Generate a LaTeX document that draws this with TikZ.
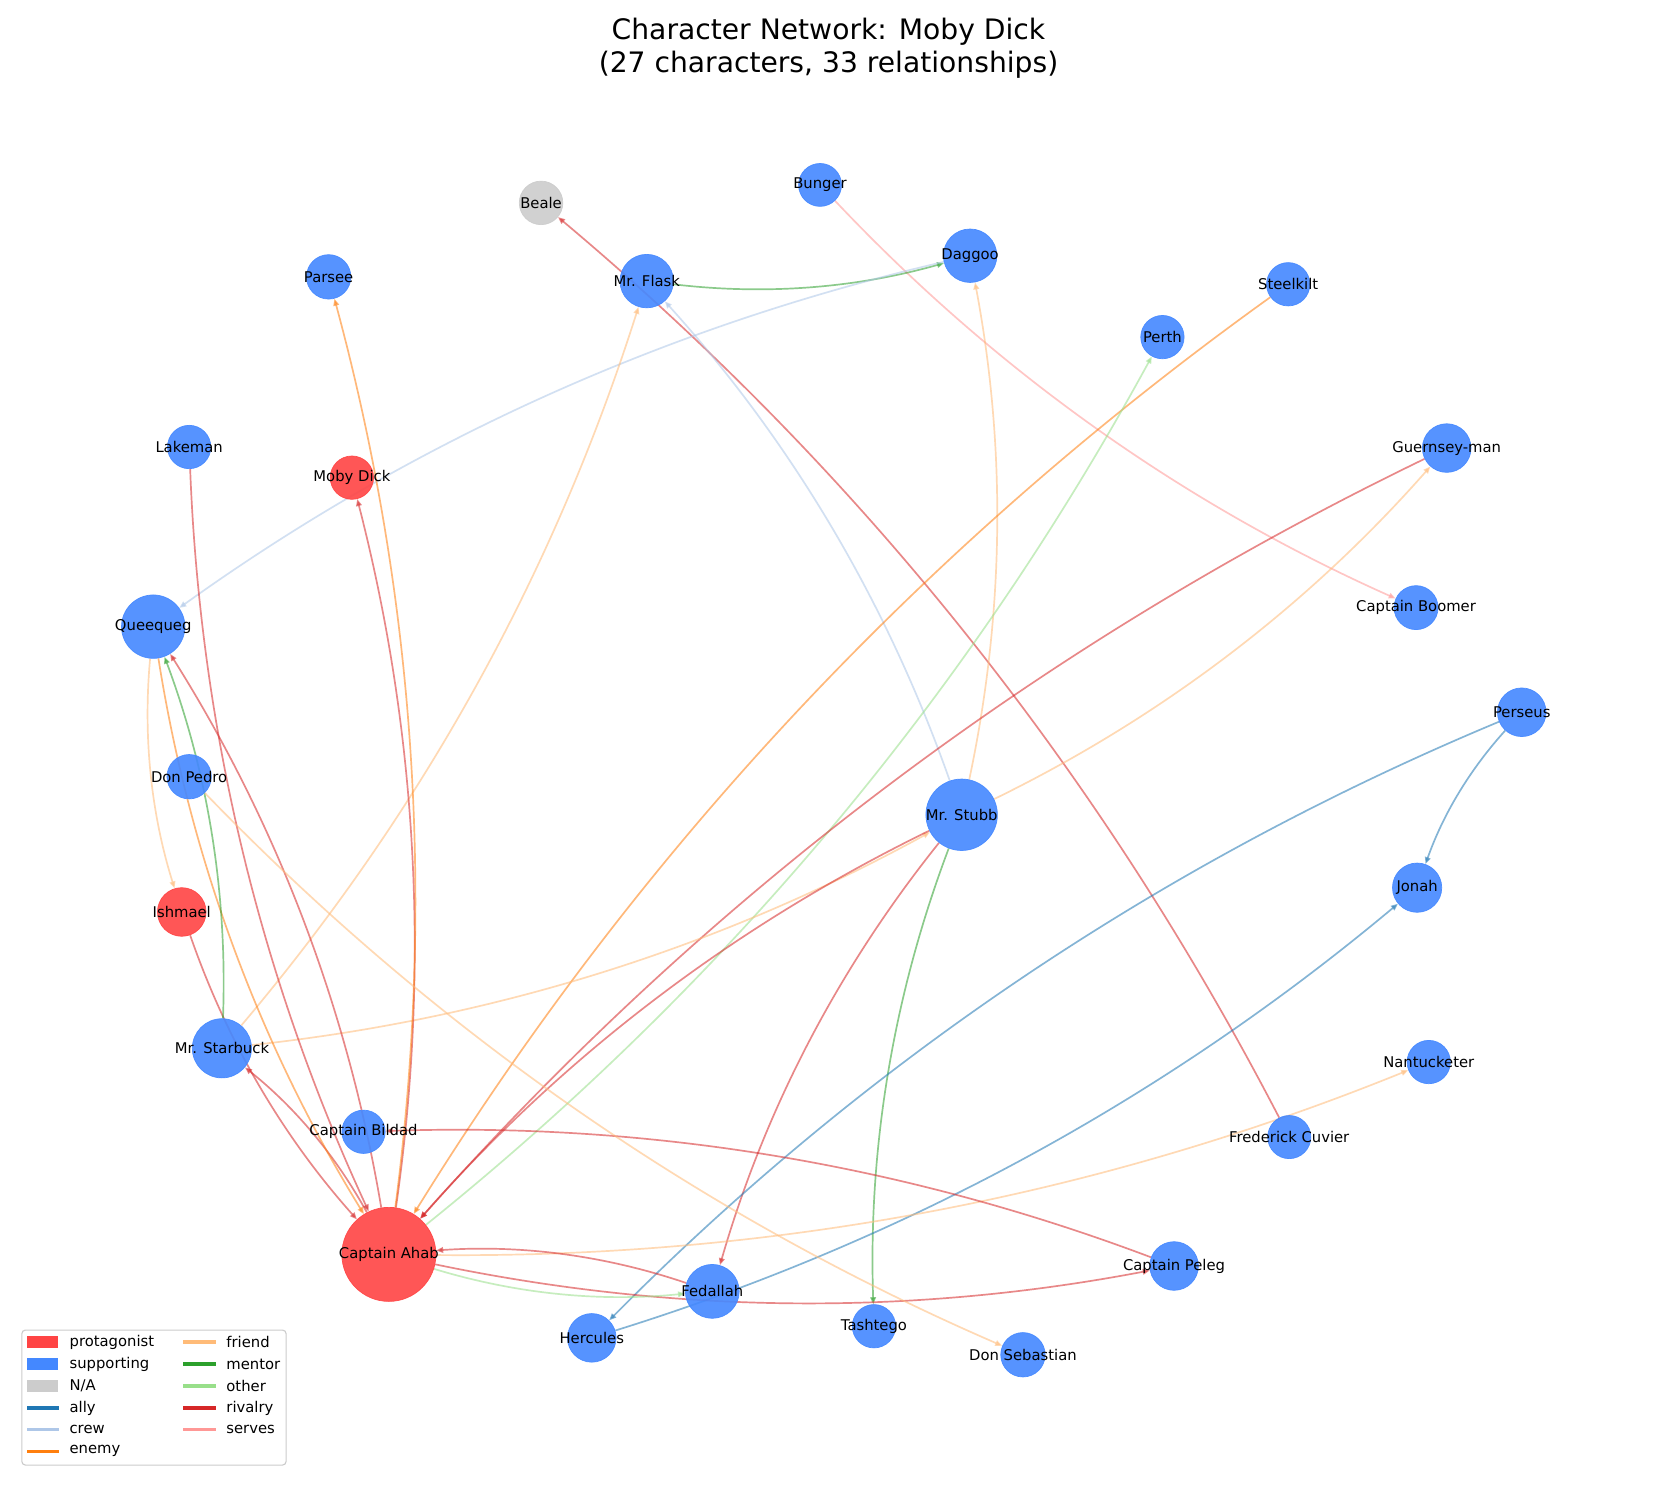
\documentclass[tikz,border=0pt]{standalone}
\usepackage{fontspec}
\setmainfont{DejaVu Sans}
\usetikzlibrary{arrows.meta}
\pgfdeclarelayer{bglayer}
\pgfdeclarelayer{edgelayer}
\pgfdeclarelayer{labellayer}
\pgfsetlayers{bglayer,edgelayer,main,labellayer}
\definecolor{prot}{HTML}{FF4444}
\definecolor{supp}{HTML}{4488FF}
\definecolor{na}{HTML}{CCCCCC}
\definecolor{cally}{HTML}{1F77B4}
\definecolor{ccrew}{HTML}{AEC7E8}
\definecolor{cenemy}{HTML}{FF7F0E}
\definecolor{cfriend}{HTML}{FFBB78}
\definecolor{cmentor}{HTML}{2CA02C}
\definecolor{cother}{HTML}{98DF8A}
\definecolor{crivalry}{HTML}{D62728}
\definecolor{cserves}{HTML}{FF9896}
\begin{document}
\begin{tikzpicture}[x=0.75pt,y=-0.75pt,
  chnode/.style={circle,inner sep=0pt,minimum size=1.5pt*#1,fill opacity=0.9,draw opacity=0.9,line width=0.5pt},
  pnode/.style={chnode=#1,fill=prot,draw=prot},
  snode/.style={chnode=#1,fill=supp,draw=supp},
  nnode/.style={chnode=#1,fill=na,draw=na},
  lbl/.style={font=\fontsize{10.5}{12}\selectfont,text=black,inner sep=0pt},
  e/.style={draw=#1,line width=1.2pt,opacity=0.55,-{Triangle[length=5pt,width=4pt]},bend right=11.3,looseness=0.87},
  ttl/.style={font=\fontsize{20}{24}\selectfont,text=black,inner sep=0pt},
  lgtext/.style={font=\fontsize{10.5}{12}\selectfont,text=black,anchor=west,inner sep=0pt},
  lgpatch/.style={fill=#1,inner sep=0pt,minimum width=21.75pt,minimum height=8.5pt},
  lgline/.style={fill=#1,inner sep=0pt,minimum width=23pt,minimum height=2.4pt}
]
\begin{pgfonlayer}{bglayer}
\fill[white] (0,0) rectangle (1568,1408);
\end{pgfonlayer}
% title
\node[ttl] (title1) at (784,30) {Character Network: Moby Dick};
\node[ttl] (title2) at (784,61) {(27 characters, 33 relationships)};
% nodes
\node[pnode=44.5] (ahab) at (368,1187) {};
\node[snode=33.8] (stubb) at (910,771) {};
\node[snode=30] (queequeg) at (145,593) {};
\node[snode=28] (starbuck) at (210,992) {};
\node[snode=25.5] (fedallah) at (674,1222) {};
\node[snode=25.3] (flask) at (612,266) {};
\node[snode=25.3] (daggoo) at (918,242) {};
\node[snode=23.3] (jonah) at (1341,840) {};
\node[snode=23] (perseus) at (1440,674) {};
\node[snode=23] (guernsey) at (1369,424) {};
\node[pnode=23] (ishmael) at (172,863) {};
\node[snode=23] (hercules) at (560,1266) {};
\node[snode=23] (peleg) at (1111,1198) {};
\node[nnode=20.6] (beale) at (512,192) {};
\node[snode=20.3] (bunger) at (776,175) {};
\node[snode=21] (parsee) at (311,262) {};
\node[pnode=20.5] (mobydick) at (333,452) {};
\node[snode=20.5] (lakeman) at (179,423) {};
\node[snode=20.5] (steelkilt) at (1219,269) {};
\node[snode=20.5] (perth) at (1100,319) {};
\node[snode=20.8] (boomer) at (1340,575) {};
\node[snode=21] (donpedro) at (179,735) {};
\node[snode=20.5] (nantucketer) at (1352,1005) {};
\node[snode=20.4] (cuvier) at (1220,1076) {};
\node[snode=20.5] (bildad) at (344,1071) {};
\node[snode=20.5] (tashtego) at (827,1255) {};
\node[snode=21] (donsebastian) at (968,1282) {};
% edges
\begin{pgfonlayer}{edgelayer}
\draw[e=crivalry] (cuvier) to (beale);
\draw[e=cserves] (bunger) to (boomer);
\draw[e=cmentor] (flask) to (daggoo);
\draw[e=ccrew] (daggoo) to (queequeg);
\draw[e=ccrew] (stubb) to (flask);
\draw[e=cfriend] (stubb) to (daggoo);
\draw[e=cfriend] (starbuck) to (flask);
\draw[e=cenemy] (steelkilt) to (ahab);
\draw[e=cother] (ahab) to (perth);
\draw[e=crivalry] (guernsey) to (ahab);
\draw[e=cfriend] (starbuck) to (stubb);
\draw[e=cfriend] (stubb) to (guernsey);
\draw[e=crivalry] (stubb) to (ahab);
\draw[e=crivalry] (stubb) to (fedallah);
\draw[e=cmentor] (stubb) to (tashtego);
\draw[e=cally] (perseus) to (jonah);
\draw[e=cally] (perseus) to (hercules);
\draw[e=cally] (hercules) to (jonah);
\draw[e=cfriend] (ahab) to (nantucketer);
\draw[e=crivalry] (peleg) to (bildad);
\draw[e=crivalry] (fedallah) to (ahab);
\draw[e=crivalry] (ahab) to (peleg);
\draw[e=cother] (ahab) to (fedallah);
\draw[e=crivalry] (ishmael) to (ahab);
\draw[e=crivalry] (ahab) to (starbuck);
\draw[e=crivalry] (lakeman) to (ahab);
\draw[e=crivalry] (ahab) to (queequeg);
\draw[e=cenemy] (queequeg) to (ahab);
\draw[e=crivalry] (ahab) to (mobydick);
\draw[e=cenemy] (ahab) to (parsee);
\draw[e=cfriend] (queequeg) to (ishmael);
\draw[e=cmentor] (starbuck) to (queequeg);
\draw[e=cfriend] (donpedro) to (donsebastian);
\end{pgfonlayer}
% labels
\begin{pgfonlayer}{labellayer}
\node[lbl] (ahab-l) at (ahab) {Captain Ahab};
\node[lbl] (stubb-l) at (stubb) {Mr. Stubb};
\node[lbl] (queequeg-l) at (queequeg) {Queequeg};
\node[lbl] (starbuck-l) at (starbuck) {Mr. Starbuck};
\node[lbl] (fedallah-l) at (fedallah) {Fedallah};
\node[lbl] (flask-l) at (flask) {Mr. Flask};
\node[lbl] (daggoo-l) at (daggoo) {Daggoo};
\node[lbl] (jonah-l) at (jonah) {Jonah};
\node[lbl] (perseus-l) at (perseus) {Perseus};
\node[lbl] (guernsey-l) at (guernsey) {Guernsey-man};
\node[lbl] (ishmael-l) at (ishmael) {Ishmael};
\node[lbl] (hercules-l) at (hercules) {Hercules};
\node[lbl] (peleg-l) at (peleg) {Captain Peleg};
\node[lbl] (beale-l) at (beale) {Beale};
\node[lbl] (bunger-l) at (bunger) {Bunger};
\node[lbl] (parsee-l) at (parsee) {Parsee};
\node[lbl] (mobydick-l) at (mobydick) {Moby Dick};
\node[lbl] (lakeman-l) at (lakeman) {Lakeman};
\node[lbl] (steelkilt-l) at (steelkilt) {Steelkilt};
\node[lbl] (perth-l) at (perth) {Perth};
\node[lbl] (boomer-l) at (boomer) {Captain Boomer};
\node[lbl] (donpedro-l) at (donpedro) {Don Pedro};
\node[lbl] (nantucketer-l) at (nantucketer) {Nantucketer};
\node[lbl] (cuvier-l) at (cuvier) {Frederick Cuvier};
\node[lbl] (bildad-l) at (bildad) {Captain Bildad};
\node[lbl] (tashtego-l) at (tashtego) {Tashtego};
\node[lbl] (donsebastian-l) at (donsebastian) {Don Sebastian};
% legend
\node[draw=na,fill=white,fill opacity=0.8,draw opacity=1,rounded corners=2.5pt,line width=0.8pt,minimum width=187.5pt,minimum height=95.8pt,inner sep=0pt] (legend) at (145.7,1322.5) {};
\node[lgpatch=prot] (lg-prot) at (40.5,1270) {};
\node[lgtext] (lg-prot-t) at (65.6,1270) {protagonist};
\node[lgpatch=supp] (lg-supp) at (40.5,1290.7) {};
\node[lgtext] (lg-supp-t) at (65.6,1290.7) {supporting};
\node[lgpatch=na] (lg-na) at (40.5,1311.5) {};
\node[lgtext] (lg-na-t) at (65.6,1311.5) {N/A};
\node[lgline=cally] (lg-ally) at (40.7,1332.3) {};
\node[lgtext] (lg-ally-t) at (65.6,1332.3) {ally};
\node[lgline=ccrew] (lg-crew) at (40.7,1352.5) {};
\node[lgtext] (lg-crew-t) at (65.6,1352.5) {crew};
\node[lgline=cenemy] (lg-enemy) at (40.7,1373.3) {};
\node[lgtext] (lg-enemy-t) at (65.6,1373.3) {enemy};
\node[lgline=cfriend] (lg-friend) at (188.8,1270) {};
\node[lgtext] (lg-friend-t) at (214,1270) {friend};
\node[lgline=cmentor] (lg-mentor) at (188.8,1290.7) {};
\node[lgtext] (lg-mentor-t) at (214,1290.7) {mentor};
\node[lgline=cother] (lg-other) at (188.8,1311.5) {};
\node[lgtext] (lg-other-t) at (214,1311.5) {other};
\node[lgline=crivalry] (lg-rivalry) at (188.8,1332.3) {};
\node[lgtext] (lg-rivalry-t) at (214,1332.3) {rivalry};
\node[lgline=cserves] (lg-serves) at (188.8,1352.5) {};
\node[lgtext] (lg-serves-t) at (214,1352.5) {serves};
\end{pgfonlayer}
\end{tikzpicture}
\end{document}
